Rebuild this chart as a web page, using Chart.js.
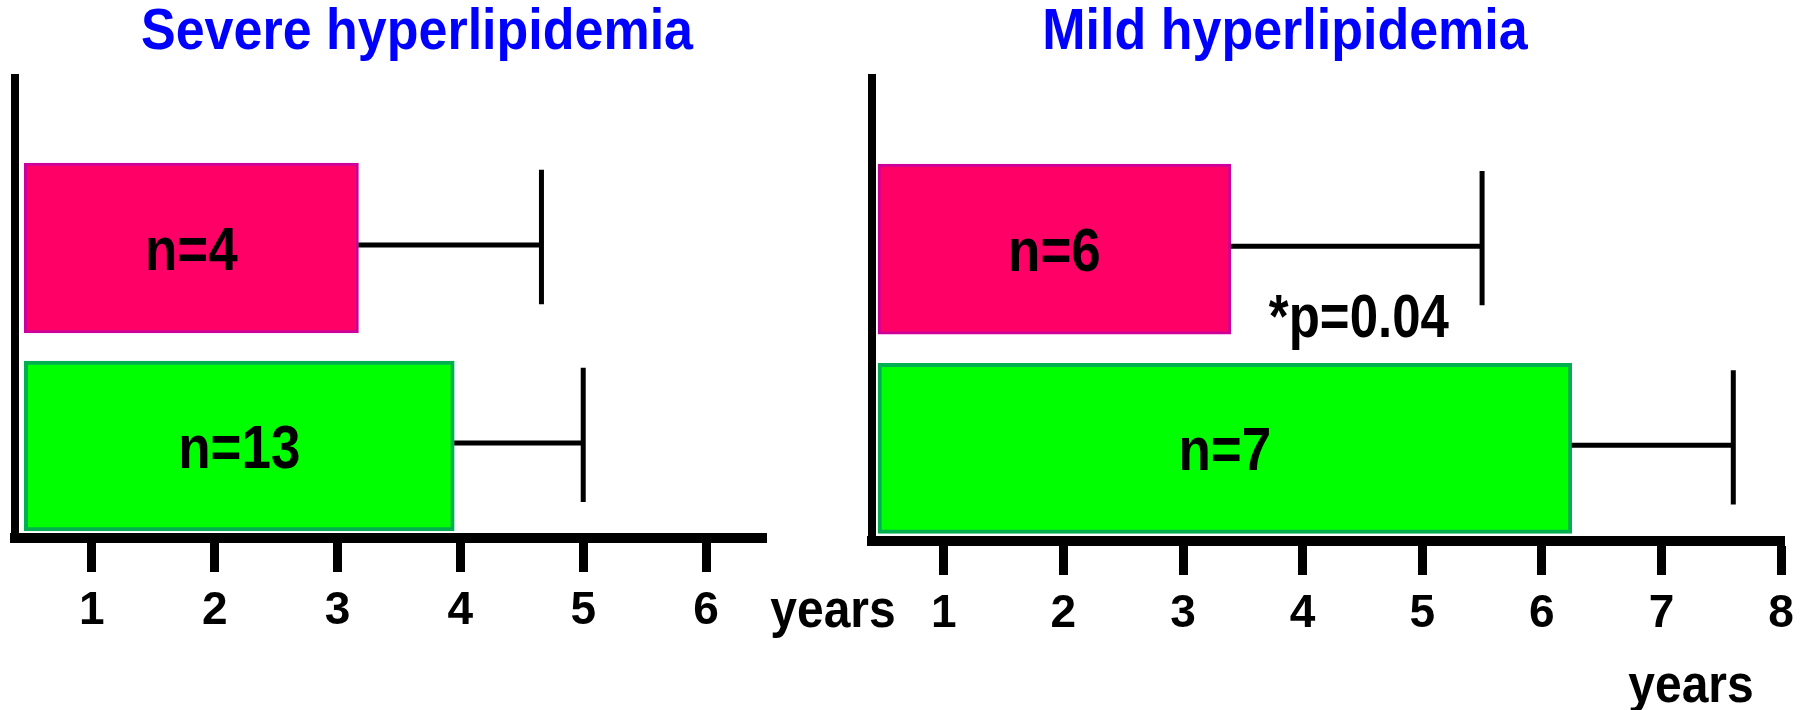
<!DOCTYPE html>
<html>
<head>
<meta charset="utf-8">
<script src="https://cdn.jsdelivr.net/npm/chart.js@4.4.1/dist/chart.umd.min.js"></script>
<style>
  html, body { margin: 0; padding: 0; background: #fff; }
  #wrap { position: relative; width: 1806px; height: 710px; }
  #wrap canvas { position: absolute; left: 0; top: 0; }
</style>
</head>
<body>
<div id="wrap">
  <canvas id="severe" width="1806" height="710"></canvas>
  <canvas id="mild" width="1806" height="710"></canvas>
</div>
<script>
/**
 * 1. data (years)
 */
const groups = ['pink group', 'green group'];
const barStart = 0.45;

const severeTitle = 'Severe hyperlipidemia';
const severeMean = [3.17, 3.95];
const severeErr = [4.66, 5.0];
const severeN = ['n=4', 'n=13'];

const mildTitle = 'Mild hyperlipidemia';
const mildMean = [3.4, 6.25];
const mildErr = [5.5, 7.6];
const mildN = ['n=6', 'n=7'];
const pNote = '*p=0.04';

const fillColors = ['#FF0066', '#00FF00'];
const edgeColors = ['#CC0099', '#00B050'];
const FONT = '"Liberation Sans", Arial, sans-serif';

// 세로로 조금 늘린 굵은 글자 (원본 글꼴 느낌)
function tallText(ctx, text, x, y, size, stretch) {
    ctx.save();
    ctx.font = 'bold ' + size + 'px ' + FONT;
    ctx.textAlign = 'center';
    ctx.textBaseline = 'alphabetic';
    ctx.translate(x, y);
    ctx.scale(1, stretch);
    ctx.fillText(text, 0, 0);
    ctx.restore();
}

/**
 * 2. error bars + text drawn on top of the bars
 */
const overlay = {
    id: 'overlay',
    afterDatasetsDraw(chart, args, opts) {
        const ctx = chart.ctx;
        const xs = chart.scales.x;
        const ys = chart.scales.y;
        const meta = chart.getDatasetMeta(0);
        ctx.save();
        ctx.strokeStyle = '#000';
        ctx.lineCap = 'butt';

        // whisker + cap
        opts.err.forEach((e, i) => {
            const bar = meta.data[i];
            const xe = xs.getPixelForValue(e);
            const h = bar.height;
            ctx.lineWidth = 5;
            ctx.beginPath();
            ctx.moveTo(bar.x, bar.y - 3);
            ctx.lineTo(xe, bar.y - 3);
            ctx.stroke();
            ctx.beginPath();
            ctx.moveTo(xe, bar.y - h * 0.46);
            ctx.lineTo(xe, bar.y + h * 0.33);
            ctx.stroke();
        });

        // n=... inside bars
        ctx.fillStyle = '#000';
        opts.nLabels.forEach((t, i) => {
            const bar = meta.data[i];
            tallText(ctx, t, (bar.x + bar.base) / 2, bar.y + 22, 53, 1.15);
        });

        // p value note
        if (opts.note) {
            tallText(ctx, opts.note.text, xs.getPixelForValue(opts.note.x), ys.getPixelForValue(opts.note.y), 51, 1.18);
        }

        // title
        ctx.fillStyle = '#0000FF';
        tallText(ctx, opts.title, opts.titleX, 49, 52, 1.1);

        // "years" unit
        ctx.fillStyle = '#000';
        tallText(ctx, 'years', opts.unitX, opts.unitY, 48, 1.1);
        ctx.restore();
    }
};

function makeChart(id, cfg) {
    const ctx = document.getElementById(id).getContext('2d');
    return new Chart(ctx, {
        type: 'bar',
        data: {
            datasets: [{
                label: cfg.title,
                data: cfg.mean.map((v, i) => ({ x: [barStart, v], y: i + 1 })),
                backgroundColor: fillColors,
                borderColor: edgeColors,
                borderWidth: [3, 4],
                borderSkipped: false,
                barThickness: 170
            }]
        },
        options: {
            indexAxis: 'y',
            responsive: false,
            animation: false,
            layout: { padding: cfg.pad },
            scales: {
                x: {
                    type: 'linear',
                    position: 'bottom',
                    min: cfg.xMin,
                    max: cfg.xMax,
                    afterFit: (s) => { s.height = 710 - cfg.bottom; },
                    ticks: {
                        stepSize: 1,
                        includeBounds: false,
                        color: '#000',
                        padding: 12,
                        font: { family: FONT, size: 46, weight: 'bold' }
                    },
                    grid: {
                        drawOnChartArea: false,
                        drawTicks: true,
                        tickLength: 34,
                        tickWidth: 9,
                        tickColor: '#000'
                    },
                    border: { display: true, color: '#000', width: 10 }
                },
                y: {
                    type: 'linear',
                    reverse: true,
                    offset: false,
                    min: 0.141,
                    max: 2.465,
                    afterFit: (s) => { s.width = 0; },
                    ticks: { display: false, stepSize: 1, includeBounds: false },
                    grid: { display: false, offset: false },
                    border: { display: true, color: '#000', width: 8 }
                }
            },
            plugins: {
                legend: { display: false },
                tooltip: { enabled: false },
                overlay: {
                    err: cfg.err,
                    nLabels: cfg.n,
                    note: cfg.note,
                    title: cfg.title,
                    titleX: cfg.titleX,
                    unitX: cfg.unitX,
                    unitY: cfg.unitY
                }
            }
        },
        plugins: [overlay]
    });
}

window.onload = function() {
    makeChart('severe', {
        title: severeTitle, mean: severeMean, err: severeErr, n: severeN,
        xMin: 0.374, xMax: 6.488, bottom: 538,
        pad: { left: 15, right: 1040, top: 78, bottom: 0 },
        titleX: 417, unitX: 833, unitY: 627
    });
    makeChart('mild', {
        title: mildTitle, mean: mildMean, err: mildErr, n: mildN,
        note: { text: pNote, x: 4.47, y: 1.44 },
        xMin: 0.4, xMax: 8.025, bottom: 541,
        pad: { left: 872, right: 19, top: 78, bottom: 0 },
        titleX: 1285, unitX: 1691, unitY: 702
    });
};
</script>
</body>
</html>
